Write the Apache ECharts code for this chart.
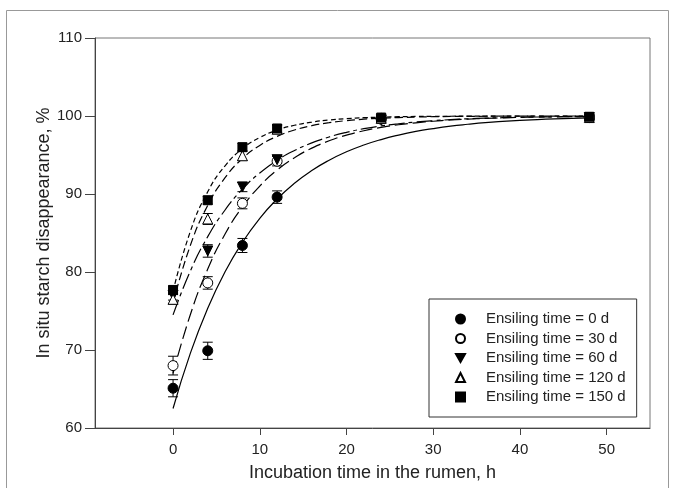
<!DOCTYPE html>
<html>
<head>
<meta charset="utf-8">
<script src="https://cdn.jsdelivr.net/npm/echarts@6/dist/echarts.min.js"></script>
<style>
html,body{margin:0;padding:0;background:#fff;}
#chart{width:675px;height:488px;}
</style>
</head>
<body>
<div id="chart"></div>
<script>
// ---- data ----
const seriesNames = ['Ensiling time = 0 d','Ensiling time = 30 d','Ensiling time = 60 d','Ensiling time = 120 d','Ensiling time = 150 d'];
const times = [0, 4, 8, 12, 24, 48];
const mean0   = [65.1, 69.9, 83.4, 89.6, 99.7, 99.8];
const mean30  = [68.0, 78.6, 88.8, 94.2, 99.6, 99.8];
const mean60  = [77.0, 82.7, 90.9, 94.4, 99.5, 99.8];
const mean120 = [76.5, 86.8, 94.9, 98.3, 99.7, 99.8];
const mean150 = [77.7, 89.2, 96.0, 98.4, 99.8, 99.9];
const err0   = [1.1, 1.1, 0.9, 0.8, 0.4, 0.4];
const err30  = [1.2, 0.8, 0.7, 0.6, 0.4, 0.3];
const err60  = [0.6, 0.8, 0.6, 0.5, 0.4, 0.3];
const err120 = [0.6, 0.7, 0.6, 0.5, 0.3, 0.3];
const err150 = [0.5, 0.5, 0.5, 0.5, 0.3, 0.3];

// fitted curves, every 2 h
const curveT   = [0, 2, 4, 6, 8, 10, 12, 14, 16, 18, 20, 22, 24, 26, 28, 30, 32, 34, 36, 38, 40, 42, 44, 46, 48];
const curve0   = [62.5, 69.6, 75.36, 80.03, 83.81, 86.88, 89.36, 91.38, 93.01, 94.33, 95.41, 96.28, 96.98, 97.55, 98.02, 98.39, 98.7, 98.94, 99.15, 99.31, 99.44, 99.54, 99.63, 99.7, 99.76];
const curve30  = [67.0, 74.55, 80.38, 84.87, 88.33, 91.01, 93.07, 94.65, 95.88, 96.82, 97.55, 98.11, 98.54, 98.88, 99.13, 99.33, 99.49, 99.6, 99.69, 99.76, 99.82, 99.86, 99.89, 99.92, 99.93];
const curve60  = [74.5, 80.14, 84.53, 87.95, 90.62, 92.69, 94.31, 95.57, 96.55, 97.31, 97.91, 98.37, 98.73, 99.01, 99.23, 99.4, 99.53, 99.64, 99.72, 99.78, 99.83, 99.87, 99.9, 99.92, 99.94];
const curve120 = [76.0, 83.42, 88.55, 92.09, 94.54, 96.23, 97.39, 98.2, 98.76, 99.14, 99.41, 99.59, 99.72, 99.8, 99.86, 99.91, 99.94, 99.95, 99.97, 99.98, 99.99, 99.99, 99.99, 100.0, 100.0];
const curve150 = [77.5, 85.22, 90.29, 93.62, 95.81, 97.24, 98.19, 98.81, 99.22, 99.49, 99.66, 99.78, 99.85, 99.91, 99.94, 99.96, 99.97, 99.98, 99.99, 99.99, 99.99, 100.0, 100.0, 100.0, 100.0];

const xTicks = [0, 10, 20, 30, 40, 50];

// ---- build ----
const means = [mean0, mean30, mean60, mean120, mean150];
const errs = [err0, err30, err60, err120, err150];
const curves = [curve0, curve30, curve60, curve120, curve150];
const dashes = ['solid', [13, 5], [16, 4, 4, 4], [8, 4], [5, 3]];
const symbols = ['circle', 'circle', 'triangle', 'triangle', 'rect'];
const legendIcons = ['circle', 'circle', 'path://M0,0L10,0L5,9Z', 'triangle', 'rect'];
const rot = [0, 0, 180, 0, 0];
const fills = ['#000', '#fff', '#000', '#fff', '#000'];
const FONT = '"Liberation Sans", Arial, sans-serif';

const series = [];
curves.forEach((c, i) => {
  series.push({
    type: 'line', name: 'curve' + i, data: curveT.map((t, k) => [t, c[k]]),
    showSymbol: false, smooth: 0.5, silent: true, z: 1,
    lineStyle: { color: '#000', width: 1.2, type: dashes[i] }
  });
});
means.forEach((m, i) => {
  series.push({
    type: 'custom', name: 'err' + i, z: 2, silent: true,
    data: times.map((t, k) => [t, m[k] - errs[i][k], m[k] + errs[i][k]]),
    renderItem: function (params, api) {
      const x = api.value(0);
      const p1 = api.coord([x, api.value(1)]);
      const p2 = api.coord([x, api.value(2)]);
      const w = 5;
      const st = { stroke: '#000', lineWidth: 1 };
      return { type: 'group', children: [
        { type: 'line', shape: { x1: p1[0], y1: p1[1], x2: p2[0], y2: p2[1] }, style: st },
        { type: 'line', shape: { x1: p1[0] - w, y1: p1[1], x2: p1[0] + w, y2: p1[1] }, style: st },
        { type: 'line', shape: { x1: p2[0] - w, y1: p2[1], x2: p2[0] + w, y2: p2[1] }, style: st }
      ]};
    }
  });
});
means.forEach((m, i) => {
  series.push({
    type: 'scatter', name: seriesNames[i], z: 3,
    data: times.map((t, k) => [t, m[k]]),
    symbol: symbols[i], symbolRotate: rot[i],
    symbolSize: symbols[i] === 'rect' ? 9 : 10,
    itemStyle: { color: fills[i], borderColor: '#000', borderWidth: 1, opacity: 1 }
  });
});

const chart = echarts.init(document.getElementById('chart'), null, { renderer: 'canvas' });
chart.setOption({
  animation: false,
  backgroundColor: '#fff',
  textStyle: { fontFamily: FONT },
  grid: { left: 95, right: 25, top: 38, bottom: 60, show: true, borderColor: '#777', borderWidth: 1 },
  xAxis: {
    type: 'value', min: -9, max: 55,
    name: 'Incubation time in the rumen, h', nameLocation: 'middle', nameGap: 36,
    nameMoveOverlap: false,
    nameTextStyle: { fontSize: 18, color: '#222', fontFamily: FONT },
    axisLine: { show: true, onZero: false, lineStyle: { color: '#444', width: 1 } },
    axisTick: { show: true, inside: false, length: 7, customValues: xTicks, lineStyle: { color: '#444' } },
    axisLabel: { customValues: xTicks, fontSize: 15, color: '#222', margin: 14, fontFamily: FONT },
    splitLine: { show: false }
  },
  yAxis: {
    type: 'value', min: 60, max: 110, interval: 10,
    name: 'In situ starch disappearance, %', nameLocation: 'middle', nameGap: 42,
    nameMoveOverlap: false,
    nameTextStyle: { fontSize: 18, color: '#222', fontFamily: FONT },
    axisLine: { show: true, onZero: false, lineStyle: { color: '#444', width: 1 } },
    axisTick: { show: true, inside: false, length: 10, lineStyle: { color: '#444' } },
    axisLabel: { fontSize: 15, color: '#222', margin: 13, fontFamily: FONT },
    splitLine: { show: false }
  },
  legend: {
    data: seriesNames.map((n, i) => ({ name: n, icon: legendIcons[i] })),
    orient: 'vertical', left: 429, top: 299,
    padding: [12, 11, 12, 26], itemGap: 3.5, itemWidth: 9, itemHeight: 9,
    borderColor: '#333', borderWidth: 1, backgroundColor: '#fff',
    textStyle: { fontSize: 15, color: '#222', lineHeight: 16, padding: [0, 0, 0, 16], fontFamily: FONT },
    selectedMode: false
  },
  graphic: [{
    type: 'rect', shape: { x: 6.5, y: 10.5, width: 662, height: 500 },
    style: { fill: 'none', stroke: '#999', lineWidth: 1 }, silent: true, z: -1
  }],
  series: series
});
</script>
</body>
</html>
